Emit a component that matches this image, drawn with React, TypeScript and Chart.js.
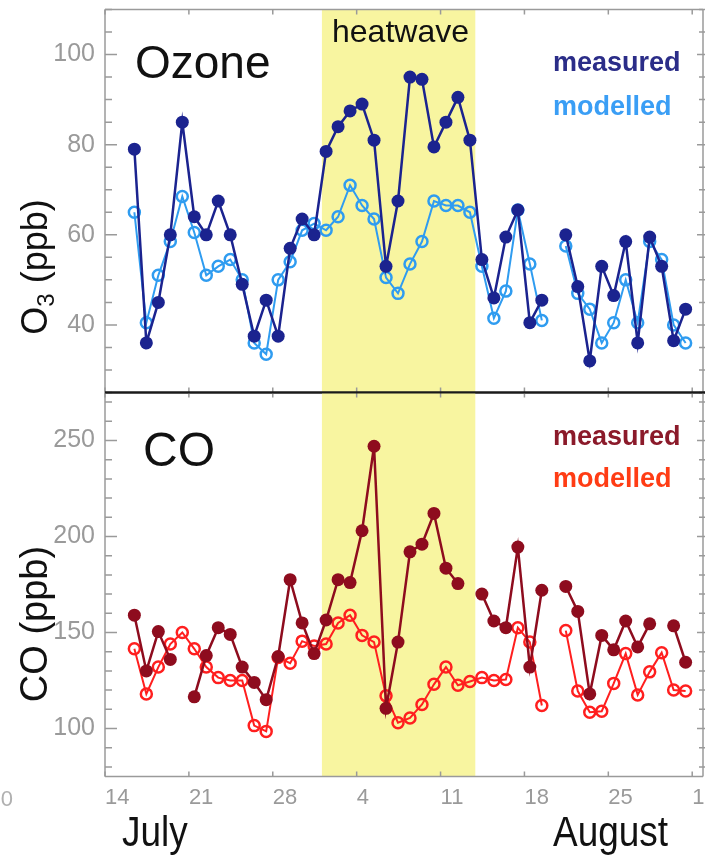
import React, { useEffect, useRef } from "react";
import { Chart, registerables } from "chart.js";

Chart.register(...registerables);

// ---------- data (days after 14 July; points plotted at mid-day) ----------
const days = [2, 3, 4, 5, 6, 7, 8, 9, 10, 11, 12, 13, 14, 15, 16, 17, 18, 19, 20, 21, 22, 23, 24, 25, 26, 27, 28, 29, 30, 31, 32, 33, 34, 35, 36, 37, 38, 39, 40, 41, 42, 43, 44, 45, 46, 47, 48];

const o3Measured = [79, 36, 45, 60, 85, 64, 60, 67.5, 60, 49, 37.5, 45.5, 37.5, 57, 63.5, 60, 78.5, 84, 87.5, 89, 81, 53, 67.5, 95, 94.5, 79.5, 85, 90.5, 81, 54.5, 46, 59.5, 65.5, 40.5, 45.5, null, 60, 48.5, 32, 53, 46.5, 58.5, 36, 59.5, 53, 36.5, 43.5];
const o3Modelled = [65, 40.5, 51, 58.5, 68.5, 60.5, 51, 53, 54.5, 50, 36, 33.5, 50, 54, 61, 62.5, 61, 64, 71, 66.5, 63.5, 50.5, 47, 53.5, 58.5, 67.5, 66.5, 66.5, 65, 53, 41.5, 47.5, 65.5, 53.5, 41, null, 57.5, 47, 43.5, 36, 40.5, 50, 40.5, 58.5, 54.5, 40, 36];

const coMeasured = [159, 130, 150.5, 136, null, 116.5, 138, 152.5, 149, 132, 124, 115, 137.5, 177.5, 155, 139, 156.5, 177.5, 176, 203, 247, 110.5, 145, 192, 196, 212, 183.5, 175.5, null, 170, 156, 152.5, 194.5, 132, 172, null, 174, 161, 118, 148.5, 141, 156, 142.5, 154.5, null, 153.5, 134.5];
const coModelled = [141.5, 118, 132, 144, 150, 141.5, 132, 126.5, 125, 125, 101.5, 98.5, 137, 134, 145.5, 143, 144, 155, 159, 148.5, 145, 117, 103, 105.5, 112.5, 123, 132, 122.5, 124.5, 126.5, 125, 125.5, 152.5, 145, 112, null, 151, 119.5, 108.5, 109, 123.5, 139, 117.5, 129.5, 139.5, 120, 119.5];

const xTickDays = [0, 7, 14, 21, 28, 35, 42, 49];
const xTickLabels = ["14", "21", "28", "4", "11", "18", "25", "1"];
const o3Ticks = [40, 60, 80, 100];
const coTicks = [100, 150, 200, 250];
const heatwave = [18.1, 30.9];

// ---------- layout / style ----------
const W = 711;
const H = 858;
const PLOT_LEFT = 105;
const PLOT_RIGHT = 705;
const TOP_Y0 = 9.5;
const MID_Y = 392.5;
const BOT_Y1 = 776.5;
const POINT_OFFSET = 0.45;

const SANS = "'Liberation Sans', Arial, Helvetica, sans-serif";
const GRAY = "#9a9a9a";
const HEAT = "#f8f5a0";
const NAVY = "#1b238f";
const LIGHT = "#2f9cf0";
const DARKRED = "#8e0c1e";
const RED = "#ff1f1f";

const pts = (vals: (number | null)[]) => days.map((d, i) => ({ x: d + POINT_OFFSET, y: vals[i] }));

const measuredStyle = (c: string) => ({
  borderColor: c,
  backgroundColor: c,
  pointBackgroundColor: c,
  pointBorderColor: c,
  borderWidth: 2.5,
  pointRadius: 6.5,
  pointBorderWidth: 0,
  spanGaps: false,
  tension: 0,
});
const modelledStyle = (c: string) => ({
  borderColor: c,
  backgroundColor: "rgba(255,255,255,0)",
  pointBackgroundColor: "rgba(255,255,255,0)",
  pointBorderColor: c,
  borderWidth: 2,
  pointRadius: 5.5,
  pointBorderWidth: 2.5,
  spanGaps: false,
  tension: 0,
});

function makePlugin(panel: "top" | "bottom", majors: number[], minorStep: number) {
  return {
    id: "decor-" + panel,
    beforeDatasetsDraw(chart: any) {
      const { ctx, chartArea: a, scales } = chart;
      const x = scales.x;
      const x0 = x.getPixelForValue(heatwave[0]);
      const x1 = x.getPixelForValue(heatwave[1]);
      ctx.save();
      ctx.fillStyle = HEAT;
      ctx.fillRect(x0, a.top, x1 - x0, a.bottom - a.top);
      ctx.restore();
    },
    afterDraw(chart: any) {
      const { ctx, chartArea: a, scales } = chart;
      const x = scales.x;
      const y = scales.y;
      ctx.save();
      // frame
      ctx.strokeStyle = GRAY;
      ctx.lineWidth = 1.5;
      ctx.beginPath();
      ctx.moveTo(a.left, a.top);
      ctx.lineTo(a.left, a.bottom);
      ctx.moveTo(a.right, a.top);
      ctx.lineTo(a.right, a.bottom);
      if (panel === "top") {
        ctx.moveTo(a.left, a.top);
        ctx.lineTo(a.right, a.top);
      } else {
        ctx.moveTo(a.left, a.bottom);
        ctx.lineTo(a.right, a.bottom);
      }
      ctx.stroke();
      // y ticks
      ctx.lineWidth = 1.5;
      ctx.beginPath();
      const start = Math.ceil(y.min / minorStep) * minorStep;
      for (let v = start; v <= y.max; v += minorStep) {
        const py = y.getPixelForValue(v);
        const major = majors.includes(v);
        ctx.moveTo(a.left, py);
        ctx.lineTo(a.left + (major ? 12 : 7), py);
        ctx.moveTo(a.right - (major ? 6 : 4), py);
        ctx.lineTo(a.right + 2, py);
      }
      // x ticks
      for (const d of xTickDays) {
        const px = x.getPixelForValue(d);
        ctx.moveTo(px, a.top);
        ctx.lineTo(px, a.top + 5);
        ctx.moveTo(px, a.bottom);
        ctx.lineTo(px, a.bottom - 5);
      }
      ctx.stroke();
      // separator between the panels
      ctx.strokeStyle = "#1a1a1a";
      ctx.lineWidth = 2;
      ctx.beginPath();
      const sy = panel === "top" ? a.bottom : a.top;
      ctx.moveTo(a.left, sy);
      ctx.lineTo(a.right + 2, sy);
      ctx.stroke();

      ctx.textAlign = "left";
      ctx.textBaseline = "alphabetic";
      if (panel === "top") {
        ctx.fillStyle = "#111";
        ctx.font = `46px ${SANS}`;
        ctx.fillText("Ozone", 135, 78);
        ctx.font = `32px ${SANS}`;
        ctx.fillText("heatwave", 332, 42);
        ctx.font = `bold 27px ${SANS}`;
        ctx.fillStyle = "#2b2d88";
        ctx.fillText("measured", 553, 71);
        ctx.fillStyle = "#3a9ef5";
        ctx.fillText("modelled", 553, 115);
        // y title O3 (ppb)
        ctx.save();
        ctx.translate(47, 267);
        ctx.rotate(-Math.PI / 2);
        ctx.fillStyle = "#111";
        ctx.font = `36px ${SANS}`;
        const w1 = ctx.measureText("O").width;
        const w3 = ctx.measureText(" (ppb)").width;
        ctx.font = `24px ${SANS}`;
        const w2 = ctx.measureText("3").width;
        const s = -(w1 + w2 + w3) / 2;
        ctx.font = `36px ${SANS}`;
        ctx.fillText("O", s, 0);
        ctx.font = `24px ${SANS}`;
        ctx.fillText("3", s + w1, 7);
        ctx.font = `36px ${SANS}`;
        ctx.fillText(" (ppb)", s + w1 + w2, 0);
        ctx.restore();
      } else {
        ctx.fillStyle = "#111";
        ctx.font = `48px ${SANS}`;
        ctx.fillText("CO", 143, 466);
        ctx.font = `bold 27px ${SANS}`;
        ctx.fillStyle = "#8b1a2a";
        ctx.fillText("measured", 553, 445);
        ctx.fillStyle = "#ff3c14";
        ctx.fillText("modelled", 553, 487);
        ctx.save();
        ctx.translate(47, 624);
        ctx.rotate(-Math.PI / 2);
        ctx.fillStyle = "#111";
        ctx.font = `38px ${SANS}`;
        ctx.textAlign = "center";
        ctx.fillText("CO (ppb)", 0, 0);
        ctx.restore();
        // month labels (slightly condensed)
        ctx.fillStyle = "#111";
        ctx.font = `42px ${SANS}`;
        ctx.textAlign = "left";
        ctx.save();
        ctx.translate(122, 846);
        ctx.scale(0.88, 1);
        ctx.fillText("July", 0, 0);
        ctx.restore();
        ctx.save();
        ctx.translate(553, 846);
        ctx.scale(0.88, 1);
        ctx.fillText("August", 0, 0);
        ctx.restore();
        // cut-off label at the left edge
        ctx.fillStyle = "#b0b0b0";
        ctx.font = `22px ${SANS}`;
        ctx.textAlign = "right";
        ctx.fillText("50", 13, 806);
      }
      ctx.restore();
    },
  };
}

function yScale(min: number, max: number, ticks: number[]) {
  return {
    min,
    max,
    afterFit: (s: any) => {
      s.width = PLOT_LEFT;
      s.paddingTop = 0;
      s.paddingBottom = 0;
    },
    afterBuildTicks: (s: any) => {
      s.ticks = ticks.map((v) => ({ value: v }));
    },
    grid: { display: false, drawTicks: false },
    border: { display: false },
    ticks: {
      padding: 10,
      color: GRAY,
      font: { family: SANS, size: 25 },
    },
  };
}

export default function App() {
  const topRef = useRef<HTMLCanvasElement>(null);
  const botRef = useRef<HTMLCanvasElement>(null);

  useEffect(() => {
    const top = new Chart(topRef.current as HTMLCanvasElement, {
      type: "line",
      data: {
        datasets: [
          { label: "measured", data: pts(o3Measured), ...measuredStyle(NAVY) } as any,
          { label: "modelled", data: pts(o3Modelled), ...modelledStyle(LIGHT) } as any,
        ],
      },
      options: {
        animation: false,
        responsive: false,
        layout: { padding: { left: 0, right: W - PLOT_RIGHT, top: TOP_Y0, bottom: H - MID_Y } },
        plugins: { legend: { display: false }, tooltip: { enabled: false } },
        scales: {
          x: { type: "linear", min: 0, max: 49.9, display: false },
          y: yScale(25, 110, o3Ticks) as any,
        },
      },
      plugins: [makePlugin("top", o3Ticks, 5)],
    });

    const bottom = new Chart(botRef.current as HTMLCanvasElement, {
      type: "line",
      data: {
        datasets: [
          { label: "measured", data: pts(coMeasured), ...measuredStyle(DARKRED) } as any,
          { label: "modelled", data: pts(coModelled), ...modelledStyle(RED) } as any,
        ],
      },
      options: {
        animation: false,
        responsive: false,
        layout: { padding: { left: 0, right: W - PLOT_RIGHT, top: MID_Y, bottom: 0 } },
        plugins: { legend: { display: false }, tooltip: { enabled: false } },
        scales: {
          x: {
            type: "linear",
            min: 0,
            max: 49.9,
            position: "bottom",
            afterFit: (s: any) => {
              s.height = H - BOT_Y1;
              s.paddingLeft = 0;
              s.paddingRight = 0;
            },
            afterBuildTicks: (s: any) => {
              s.ticks = xTickDays.map((v) => ({ value: v }));
            },
            grid: { display: false, drawTicks: false },
            border: { display: false },
            ticks: {
              autoSkip: false,
              maxRotation: 0,
              align: "start",
              padding: 8,
              color: GRAY,
              font: { family: SANS, size: 22 },
              callback: (v: any) => {
                const i = xTickDays.indexOf(Number(v));
                return i >= 0 ? xTickLabels[i] : "";
              },
            },
          } as any,
          y: yScale(75, 275, coTicks) as any,
        },
      },
      plugins: [makePlugin("bottom", coTicks, 10)],
    });

    return () => {
      top.destroy();
      bottom.destroy();
    };
  }, []);

  const cs: React.CSSProperties = { position: "absolute", left: 0, top: 0, width: W, height: H };
  return (
    <div style={{ position: "absolute", left: 0, top: 0, width: W, height: H, background: "#fff" }}>
      <canvas ref={topRef} width={W} height={H} style={cs} />
      <canvas ref={botRef} width={W} height={H} style={cs} />
    </div>
  );
}
